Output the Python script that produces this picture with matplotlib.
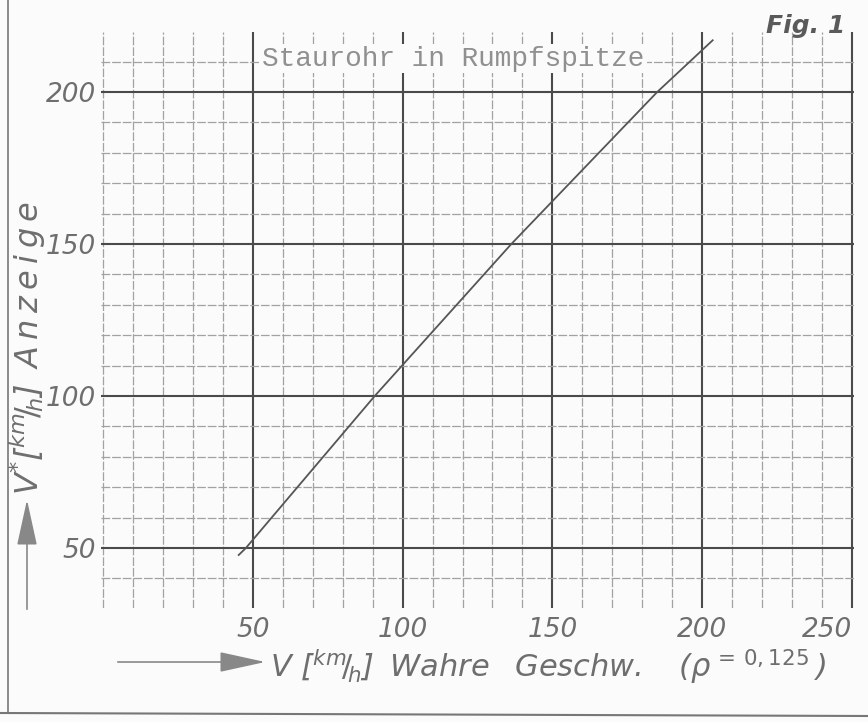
import matplotlib.pyplot as plt
from matplotlib.lines import Line2D
from matplotlib.patches import FancyArrowPatch
from matplotlib.ticker import MultipleLocator

# calibration curve: true airspeed vs. indicated airspeed
v_wahr = [45.3, 47.7, 90.7, 136.3, 185.0, 203.5]
v_anzeige = [47.7, 50.0, 100.0, 150.0, 200.0, 217.0]

x_ticks = [50, 100, 150, 200, 250]
y_ticks = [50, 100, 150, 200]

ink = '#555555'
pencil = '#6e6e6e'
thin = '\u2009'

fig = plt.figure(figsize=(8.68, 7.22), dpi=100)
fig.patch.set_facecolor('#fbfbfb')

ax = fig.add_axes([0.1169, 0.1576, 0.8664, 0.7984])
ax.set_facecolor('none')
ax.set_xlim(-0.5, 250.5)
ax.set_ylim(30.2, 219.8)

ax.set_xticks(x_ticks)
ax.set_yticks(y_ticks)
ax.xaxis.set_minor_locator(MultipleLocator(10))
ax.yaxis.set_minor_locator(MultipleLocator(10))

ax.grid(which='major', color='#4a4a4a', lw=1.5)
ax.grid(which='minor', color='#a2a2a2', lw=0.9, ls=(0, (7, 1.5)))
ax.set_axisbelow(True)
for s in ax.spines.values():
    s.set_visible(False)

ax.tick_params(which='both', length=0, colors=pencil, labelsize=19)
ax.tick_params(axis='x', pad=6)
ax.tick_params(axis='y', pad=4)
for lbl in ax.get_xticklabels() + ax.get_yticklabels():
    lbl.set_fontstyle('italic')
# last x label is pulled inside the page like on the scan
ax.get_xticklabels()[-1].set_horizontalalignment('right')

ax.plot(v_wahr, v_anzeige, color=ink, lw=1.3)

# typewritten caption inside the grid
ax.text(117, 211, 'Staurohr in Rumpfspitze', family='Liberation Mono',
        fontsize=20, color='#909090', ha='center', va='center',
        bbox=dict(facecolor='#fbfbfb', edgecolor='none', pad=1.5))

# hand-lettered axis titles with arrows
xlab = (r'V [$^{km}\!/\!_{h}$]' + thin + ' Wahre' + thin + '  Geschw.' + thin
        + '   (ρ$^{\\,=\\,0,125}$' + thin + ')')
fig.text(270 / 868, 1 - 667 / 722, xlab, fontsize=22, fontstyle='italic',
         color=pencil, va='center', ha='left')
fig.add_artist(FancyArrowPatch(
    (115 / 868, 1 - 662 / 722), (268 / 868, 1 - 662 / 722),
    transform=fig.transFigure, arrowstyle='-|>,head_length=1.6,head_width=0.35',
    mutation_scale=18, color='#888888', lw=1.2))

ylab = r'V$^{*}$[$^{km}\!/\!_{h}$]' + thin + ' ' + thin.join('Anzeige')
fig.text(28 / 868, 1 - 348 / 722, ylab, fontsize=23, fontstyle='italic',
         color=pencil, rotation=90, va='center', ha='center')
fig.add_artist(FancyArrowPatch(
    (27 / 868, 1 - 612 / 722), (27 / 868, 1 - 497 / 722),
    transform=fig.transFigure, arrowstyle='-|>,head_length=1.6,head_width=0.35',
    mutation_scale=18, color='#888888', lw=1.2))

fig.text(806 / 868, 1 - 26 / 722, 'Fig. 1', fontsize=18, fontstyle='italic',
         fontweight='bold', color='#5a5a5a', ha='center', va='center')

# page border of the scan
fig.add_artist(Line2D([8 / 868, 8 / 868], [1, 1 - 712 / 722],
                      transform=fig.transFigure, color='#777777', lw=1.2))
fig.add_artist(Line2D([0, 1], [1 - 713 / 722, 1 - 716 / 722],
                      transform=fig.transFigure, color='#777777', lw=1.5))

fig.savefig('out.png', dpi=100, facecolor=fig.get_facecolor())
